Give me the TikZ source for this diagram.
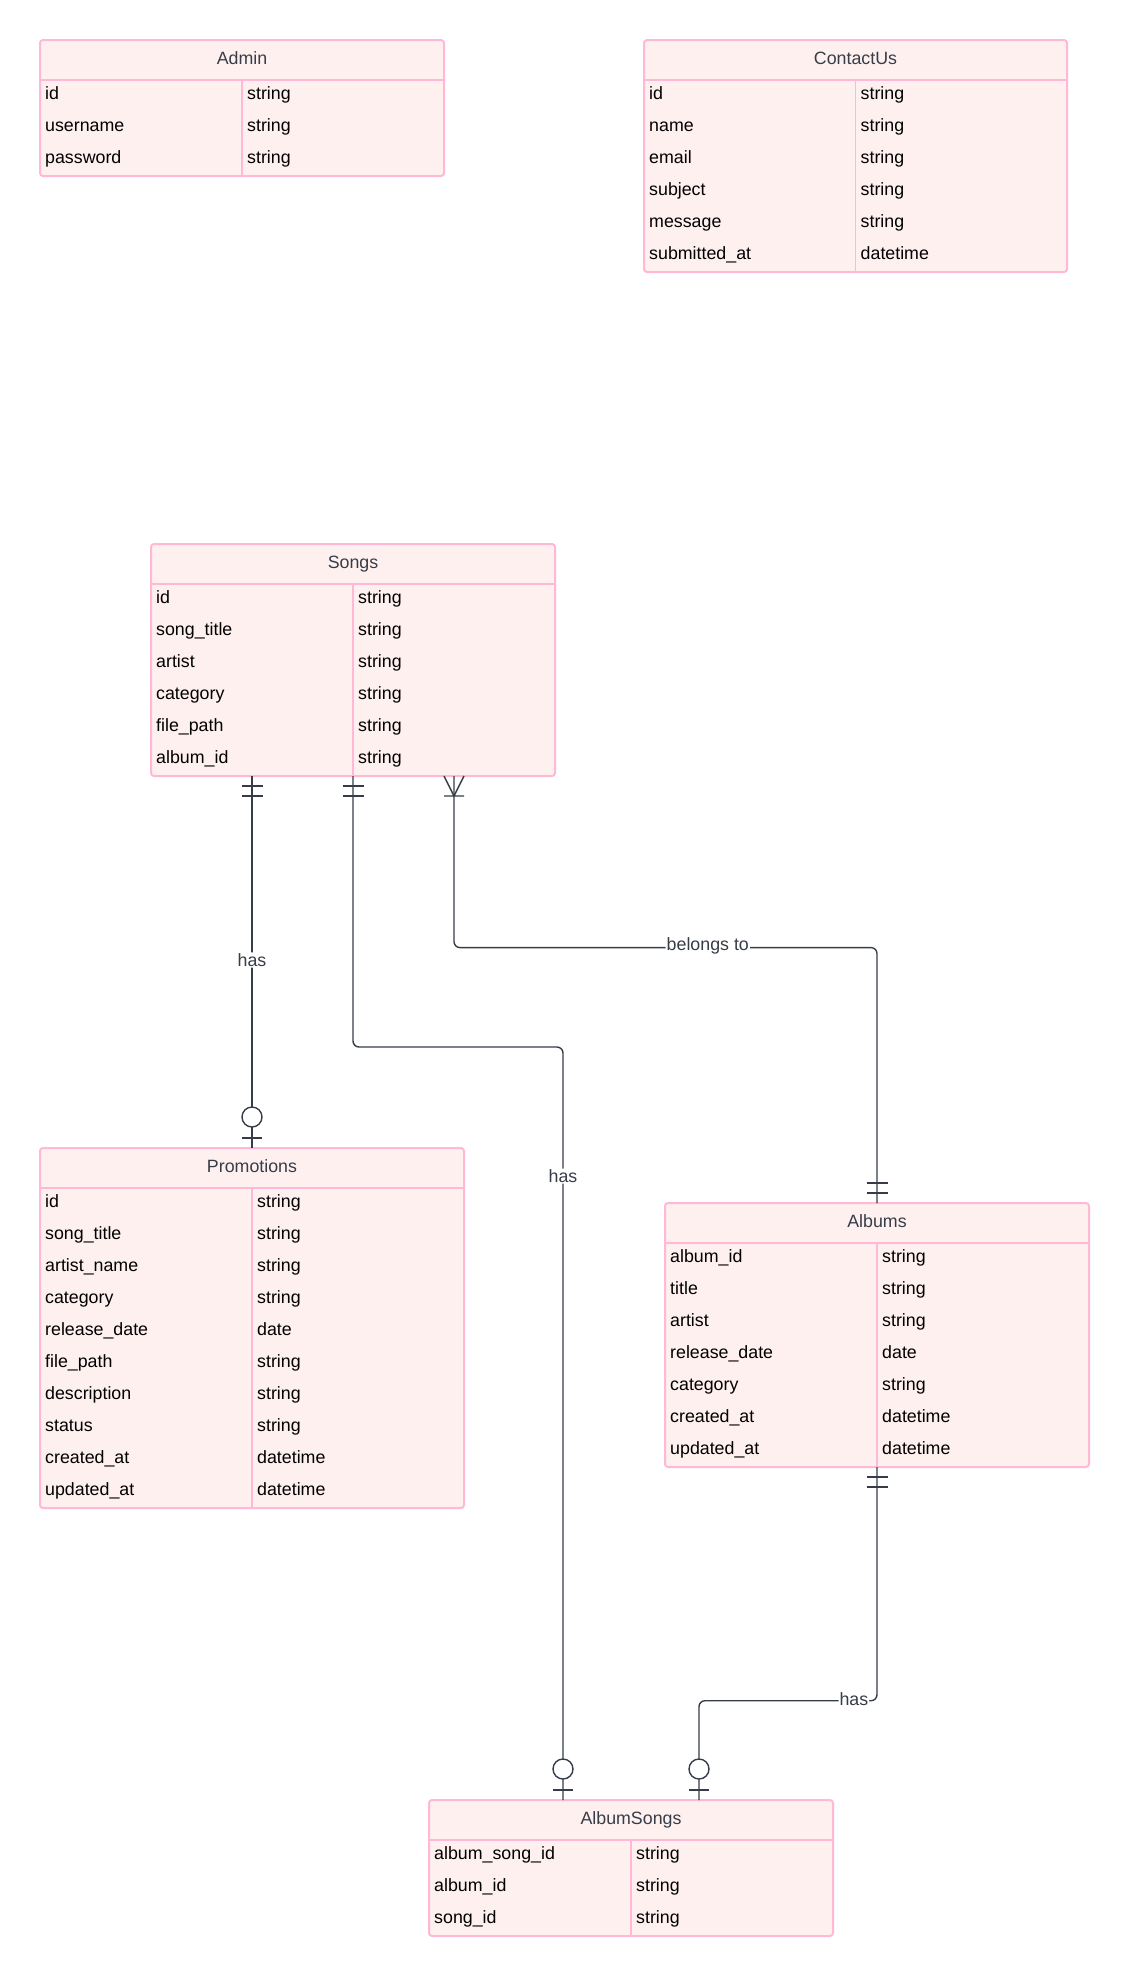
\documentclass[tikz,border=0pt]{standalone}
\usepackage{fontspec}
\setmainfont{Liberation Sans}
\usetikzlibrary{positioning}

\definecolor{erdpink}{RGB}{255,184,214}
\definecolor{erdfill}{RGB}{255,240,240}
\definecolor{erdslate}{RGB}{54,61,72}

\tikzset{
  entity/.style={rectangle, draw=erdpink, fill=erdfill, line width=2pt, rounded corners=3pt,
    inner sep=0pt, outer sep=0pt, anchor=north west},
  sepline/.style={draw=erdpink, line width=1.8pt},
  entname/.style={anchor=base, text=erdslate, inner sep=0pt},
  attr/.style={anchor=base west, inner sep=0pt},
  rel/.style={draw=erdslate, line width=1.4pt, rounded corners=6pt},
  cardmark/.style={draw=erdslate, line width=1.4pt},
  lbl/.style={fill=white, text=erdslate, inner sep=1pt, yshift=2pt},
  oneone/.pic={\draw[cardmark] (-10.5,10) -- (10.5,10) (-10.5,20) -- (10.5,20);},
  zeroone/.pic={\draw[cardmark] (-10,10) -- (10,10); \draw[cardmark, fill=white] (0,31) circle[radius=10];},
  onemany/.pic={\draw[cardmark] (-10,0) -- (0,20) -- (10,0) (-10,20) -- (10,20);}
}

\begin{document}
\begin{tikzpicture}[x=1pt, y=-1pt, font=\fontsize{17.8}{21}\selectfont]
\useasboundingbox (0,0) rectangle (1129,1976);

% Admin
\node[entity, minimum width=404pt, minimum height=136pt] (admin) at (40,40) {};
\node[entname] (admin-h) at ([yshift=-24pt]admin.north) {Admin};
\draw[sepline] ([yshift=-40pt]admin.north west) -- ([yshift=-40pt]admin.north east);
\draw[sepline, line width=1.5pt] ([yshift=-40pt]admin.north) -- (admin.south);
\foreach \fname/\ftype [count=\i] in {id/string, username/string, password/string} {
  \node[attr] (admin-f\i) at ([xshift=5pt, yshift={-27.5pt-32pt*\i}]admin.north west) {\fname};
  \node[attr] (admin-y\i) at ([xshift=5pt, yshift={-27.5pt-32pt*\i}]admin.north) {\ftype};
}

% ContactUs
\node[entity, minimum width=423pt, minimum height=232pt] (contact) at (644,40) {};
\node[entname] (contact-h) at ([yshift=-24pt]contact.north) {ContactUs};
\draw[sepline] ([yshift=-40pt]contact.north west) -- ([yshift=-40pt]contact.north east);
\draw[sepline, line width=1.5pt] ([yshift=-40pt]contact.north) -- (contact.south);
\foreach \fname/\ftype [count=\i] in {id/string, name/string, email/string, subject/string,
    message/string, submitted\_at/datetime} {
  \node[attr] (contact-f\i) at ([xshift=5pt, yshift={-27.5pt-32pt*\i}]contact.north west) {\fname};
  \node[attr] (contact-y\i) at ([xshift=5pt, yshift={-27.5pt-32pt*\i}]contact.north) {\ftype};
}

% Songs
\node[entity, minimum width=404pt, minimum height=232pt] (songs) at (151,544) {};
\node[entname] (songs-h) at ([yshift=-24pt]songs.north) {Songs};
\draw[sepline] ([yshift=-40pt]songs.north west) -- ([yshift=-40pt]songs.north east);
\draw[sepline, line width=1.5pt] ([yshift=-40pt]songs.north) -- (songs.south);
\foreach \fname/\ftype [count=\i] in {id/string, song\_title/string, artist/string,
    category/string, file\_path/string, album\_id/string} {
  \node[attr] (songs-f\i) at ([xshift=5pt, yshift={-27.5pt-32pt*\i}]songs.north west) {\fname};
  \node[attr] (songs-y\i) at ([xshift=5pt, yshift={-27.5pt-32pt*\i}]songs.north) {\ftype};
}

% Promotions
\node[entity, minimum width=424pt, minimum height=360pt] (promos) at (40,1148) {};
\node[entname] (promos-h) at ([yshift=-24pt]promos.north) {Promotions};
\draw[sepline] ([yshift=-40pt]promos.north west) -- ([yshift=-40pt]promos.north east);
\draw[sepline, line width=1.5pt] ([yshift=-40pt]promos.north) -- (promos.south);
\foreach \fname/\ftype [count=\i] in {id/string, song\_title/string, artist\_name/string,
    category/string, release\_date/date, file\_path/string, description/string,
    status/string, created\_at/datetime, updated\_at/datetime} {
  \node[attr] (promos-f\i) at ([xshift=5pt, yshift={-27.5pt-32pt*\i}]promos.north west) {\fname};
  \node[attr] (promos-y\i) at ([xshift=5pt, yshift={-27.5pt-32pt*\i}]promos.north) {\ftype};
}

% Albums
\node[entity, minimum width=424pt, minimum height=264pt] (albums) at (665,1203) {};
\node[entname] (albums-h) at ([yshift=-24pt]albums.north) {Albums};
\draw[sepline] ([yshift=-40pt]albums.north west) -- ([yshift=-40pt]albums.north east);
\draw[sepline, line width=1.5pt] ([yshift=-40pt]albums.north) -- (albums.south);
\foreach \fname/\ftype [count=\i] in {album\_id/string, title/string, artist/string,
    release\_date/date, category/string, created\_at/datetime, updated\_at/datetime} {
  \node[attr] (albums-f\i) at ([xshift=5pt, yshift={-27.5pt-32pt*\i}]albums.north west) {\fname};
  \node[attr] (albums-y\i) at ([xshift=5pt, yshift={-27.5pt-32pt*\i}]albums.north) {\ftype};
}

% AlbumSongs
\node[entity, minimum width=404pt, minimum height=136pt] (asongs) at (429,1800) {};
\node[entname] (asongs-h) at ([yshift=-24pt]asongs.north) {AlbumSongs};
\draw[sepline] ([yshift=-40pt]asongs.north west) -- ([yshift=-40pt]asongs.north east);
\draw[sepline, line width=1.5pt] ([yshift=-40pt]asongs.north) -- (asongs.south);
\foreach \fname/\ftype [count=\i] in {album\_song\_id/string, album\_id/string, song\_id/string} {
  \node[attr] (asongs-f\i) at ([xshift=5pt, yshift={-27.5pt-32pt*\i}]asongs.north west) {\fname};
  \node[attr] (asongs-y\i) at ([xshift=5pt, yshift={-27.5pt-32pt*\i}]asongs.north) {\ftype};
}

% relationships
\coordinate (s1) at (promos.north |- songs.south);
\coordinate (s3) at ([xshift=101pt]songs.south);
\coordinate (as1) at ([xshift=-68pt]asongs.north);
\coordinate (as2) at ([xshift=68pt]asongs.north);
\draw[rel, line width=2.2pt] (s1) -- node[lbl] (has1) {has} (promos.north);
\draw[rel] (songs.south) -- ++(0,271) -| node[lbl, pos=0.587] (has2) {has} (as1);
\draw[rel] (s3) -- ++(0,171.6) -| node[lbl, pos=0.3] (belongs) {belongs to} (albums.north);
\draw[rel] (albums.south) -- ++(0,233.7) -| node[lbl, pos=0.065] (has3) {has} (as2);

\pic at (s1) {oneone};
\pic at (songs.south) {oneone};
\pic at (s3) {onemany};
\pic[yscale=-1] at (promos.north) {zeroone};
\pic[yscale=-1] at (albums.north) {oneone};
\pic at (albums.south) {oneone};
\pic[yscale=-1] at (as1) {zeroone};
\pic[yscale=-1] at (as2) {zeroone};
\end{tikzpicture}
\end{document}
